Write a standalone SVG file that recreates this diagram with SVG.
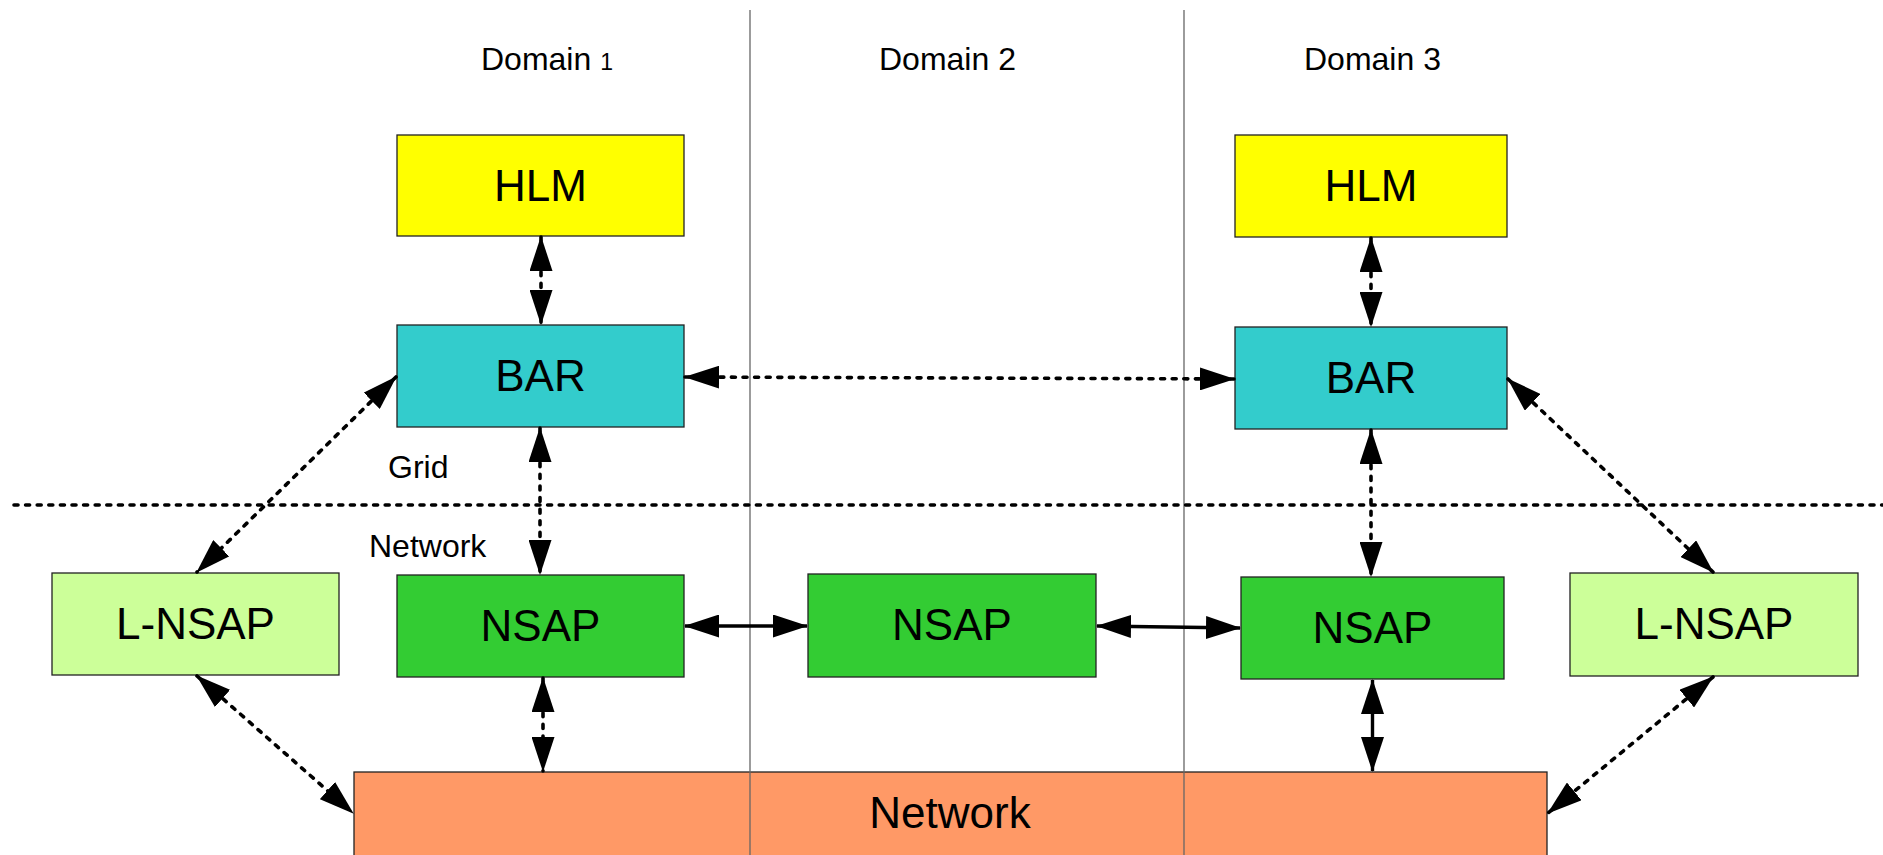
<svg xmlns="http://www.w3.org/2000/svg" width="1883" height="855" viewBox="0 0 1883 855">
<defs>
<style>
text{font-family:"Liberation Sans",Arial,sans-serif;fill:#000}
.box{stroke:#222;stroke-width:1.3}
.lbl{font-size:44px;text-anchor:middle}
.small{font-size:32px}
.dash{stroke:#000;stroke-width:3.6;stroke-dasharray:4 7.6;stroke-linecap:round;fill:none}
.solid{stroke:#000;stroke-width:3.4;fill:none}
.dom{stroke:#666;stroke-width:1.3}
</style>
<marker id="ah" viewBox="0 0 35 23" refX="34" refY="11.5" markerWidth="35" markerHeight="23" markerUnits="userSpaceOnUse" orient="auto-start-reverse">
<path d="M0,0 L35,11.5 L0,23 Z" fill="#000"/>
</marker>
</defs>
<rect width="1883" height="855" fill="#fff"/>
<g id="network">
<rect class="box" x="354" y="772" width="1193" height="95" fill="#ff9966"/>
<text class="lbl" x="950" y="828">Network</text>
</g>
<g id="domains">
<line class="dom" x1="750" y1="10" x2="750" y2="855"/>
<line class="dom" x1="1184" y1="10" x2="1184" y2="855"/>
<text class="small" x="481" y="70">Domain <tspan font-size="23">1</tspan></text>
<text class="small" x="879" y="70">Domain 2</text>
<text class="small" x="1304" y="70">Domain 3</text>
</g>
<g id="layer">
<line class="dash" x1="14" y1="505" x2="1883" y2="505"/>
<text class="small" x="388" y="478">Grid</text>
<text class="small" x="369" y="557">Network</text>
</g>
<g id="hlm1"><rect class="box" x="397" y="135" width="287" height="101" fill="#ffff00"/><text class="lbl" x="540.5" y="201">HLM</text></g>
<g id="bar1"><rect class="box" x="397" y="325" width="287" height="102" fill="#33cccc"/><text class="lbl" x="540.5" y="391">BAR</text></g>
<g id="nsap1"><rect class="box" x="397" y="575" width="287" height="102" fill="#33cc33"/><text class="lbl" x="540.5" y="641">NSAP</text></g>
<g id="lnsap1"><rect class="box" x="52" y="573" width="287" height="102" fill="#ccff99"/><text class="lbl" x="195.5" y="639">L-NSAP</text></g>
<g id="nsap2"><rect class="box" x="808" y="574" width="288" height="103" fill="#33cc33"/><text class="lbl" x="952" y="640">NSAP</text></g>
<g id="hlm3"><rect class="box" x="1235" y="135" width="272" height="102" fill="#ffff00"/><text class="lbl" x="1371" y="201">HLM</text></g>
<g id="bar3"><rect class="box" x="1235" y="327" width="272" height="102" fill="#33cccc"/><text class="lbl" x="1371" y="393">BAR</text></g>
<g id="nsap3"><rect class="box" x="1241" y="577" width="263" height="102" fill="#33cc33"/><text class="lbl" x="1372.5" y="643">NSAP</text></g>
<g id="lnsap3"><rect class="box" x="1570" y="573" width="288" height="103" fill="#ccff99"/><text class="lbl" x="1714" y="639">L-NSAP</text></g>
<g id="connectors">
<line class="dash" x1="541" y1="237" x2="541" y2="324" marker-start="url(#ah)" marker-end="url(#ah)"/>
<line class="dash" x1="540" y1="428" x2="540" y2="574" marker-start="url(#ah)" marker-end="url(#ah)"/>
<line class="dash" x1="685" y1="377" x2="1234" y2="379" marker-start="url(#ah)" marker-end="url(#ah)"/>
<line class="dash" x1="396" y1="377" x2="197" y2="572" marker-start="url(#ah)" marker-end="url(#ah)"/>
<line class="dash" x1="197" y1="676" x2="353" y2="813" marker-start="url(#ah)" marker-end="url(#ah)"/>
<line class="dash" x1="543" y1="678" x2="543" y2="771" marker-start="url(#ah)" marker-end="url(#ah)"/>
<line class="solid" x1="685" y1="626" x2="807" y2="626" marker-start="url(#ah)" marker-end="url(#ah)"/>
<line class="solid" x1="1097" y1="626" x2="1240" y2="628" marker-start="url(#ah)" marker-end="url(#ah)"/>
<line class="dash" x1="1371" y1="238" x2="1371" y2="326" marker-start="url(#ah)" marker-end="url(#ah)"/>
<line class="dash" x1="1371" y1="430" x2="1371" y2="576" marker-start="url(#ah)" marker-end="url(#ah)"/>
<line class="dash" x1="1508" y1="379" x2="1713" y2="572" marker-start="url(#ah)" marker-end="url(#ah)"/>
<line class="solid" x1="1372.5" y1="680" x2="1372.5" y2="771" marker-start="url(#ah)" marker-end="url(#ah)"/>
<line class="dash" x1="1713" y1="677" x2="1548" y2="813" marker-start="url(#ah)" marker-end="url(#ah)"/>
</g>
</svg>
